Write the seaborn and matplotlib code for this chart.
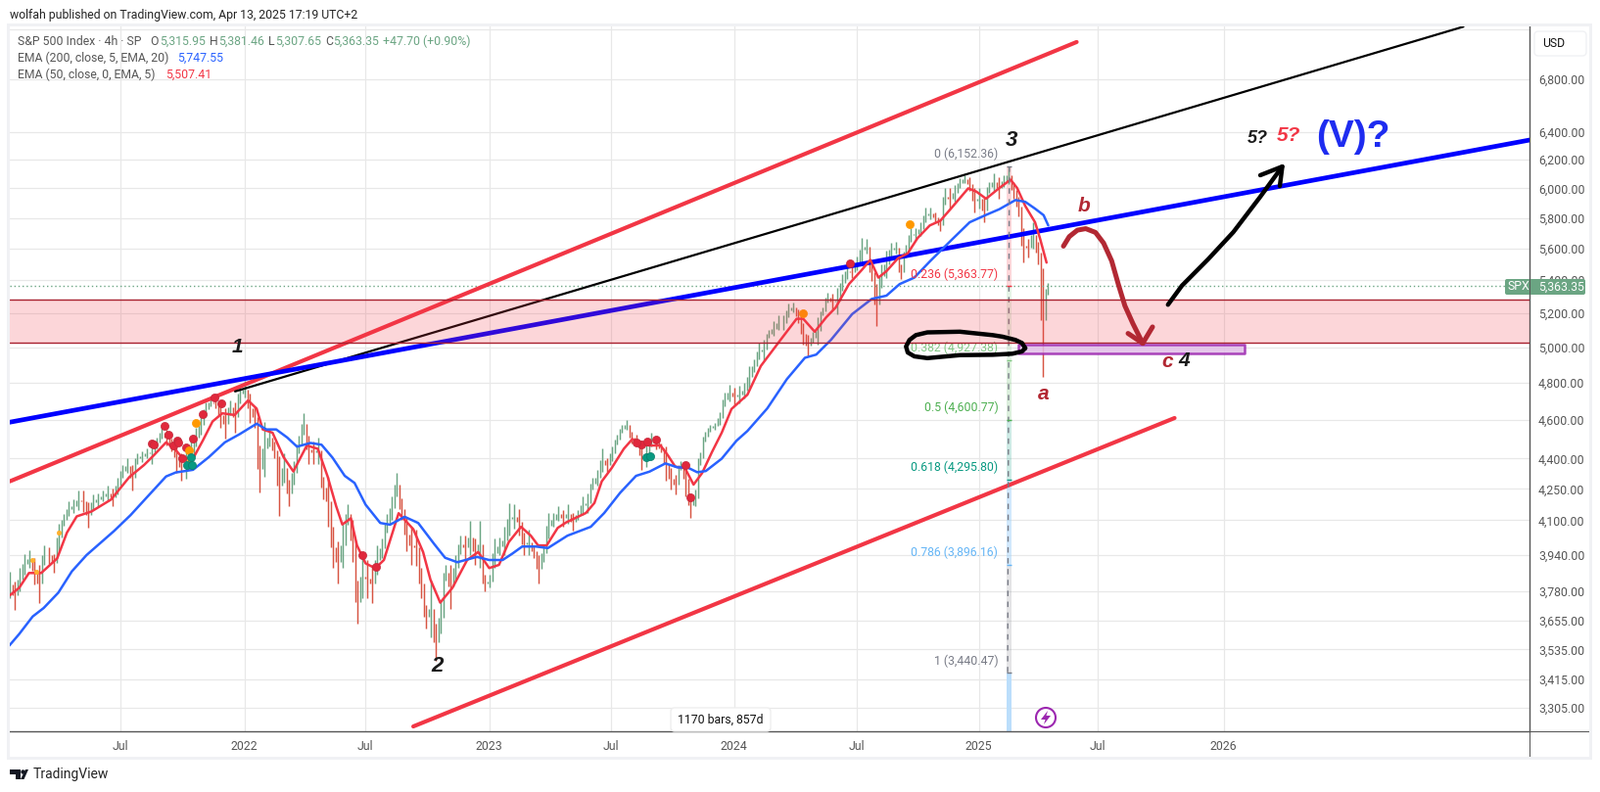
"""S&P 500 4h TradingView chart with Elliott wave drawings, rebuilt in seaborn."""

import matplotlib
matplotlib.use("Agg")
import matplotlib.pyplot as plt
import matplotlib.transforms as mtransforms
from matplotlib.patches import FancyBboxPatch, Polygon, Rectangle, Circle
from matplotlib.ticker import NullLocator
import numpy as np
import pandas as pd
import seaborn as sns

WIDTH, HEIGHT = 1634, 809

# ---- values ----------------------------------------------------------------
# candle ranges, one bar every 5 px of the chart, oldest first
bar_high = [
    3866, 3820, 3880, 3945, 3960, 3925, 3895, 3985, 3975, 3945, 4085, 4130, 4190, 4200, 4240, 4240,
    4185, 4225, 4230, 4240, 4265, 4250, 4305, 4370, 4400, 4370, 4425, 4435, 4450, 4490, 4510, 4565,
    4550, 4500, 4485, 4425, 4460, 4490, 4560, 4625, 4695, 4720, 4720, 4695, 4660, 4705, 4695, 4790,
    4810, 4740, 4675, 4465, 4590, 4555, 4485, 4410, 4425, 4295, 4390, 4520, 4635, 4520, 4485, 4510,
    4310, 4310, 4070, 4000, 4085, 4175, 4100, 3825, 3940, 3915, 3895, 3985, 4015, 4130, 4215, 4330,
    4205, 4115, 4070, 4055, 3880, 3720, 3825, 3640, 3735, 3895, 3895, 3940, 4030, 4030, 4095, 4015,
    4095, 3850, 3850, 4015, 4020, 4070,
    4180, 4175, 4155, 4040, 4055, 3985, 3940, 3985, 4135, 4135, 4165, 4150, 4175, 4135, 4150, 4215,
    4230, 4305, 4345, 4450, 4400, 4460, 4525, 4575, 4600, 4540, 4525, 4490, 4475, 4535, 4515, 4475,
    4460, 4355, 4320, 4390, 4385, 4230, 4245, 4430, 4540, 4575, 4585, 4640, 4745, 4790,
    4775, 4785, 4800, 4895, 4930, 5025, 5045, 5100, 5150, 5185, 5185, 5255, 5265, 5225, 5140, 5070,
    5090, 5175, 5235, 5325,
    5315, 5355, 5435, 5510, 5490, 5550, 5670, 5660, 5510, 5375, 5500, 5585, 5635, 5645, 5500, 5625,
    5730, 5730, 5770, 5870, 5870, 5835, 5790, 6000, 6000, 6025, 6070, 6090, 6080, 6000, 6000, 5935,
    6045, 6105, 6080, 6090, 6152, 6045, 5945, 5730, 5665, 5770, 5645, 5476, 5381,
]
bar_low = [
    3750, 3700, 3780, 3850, 3880, 3810, 3730, 3895, 3900, 3860, 3955, 4075, 4120, 4135, 4150, 4140,
    4065, 4150, 4165, 4190, 4190, 4165, 4225, 4305, 4330, 4240, 4375, 4385, 4400, 4375, 4450, 4500,
    4465, 4435, 4330, 4290, 4300, 4345, 4460, 4525, 4620, 4670, 4660, 4560, 4500, 4625, 4535, 4690,
    4720, 4585, 4560, 4235, 4310, 4460, 4400, 4120, 4280, 4165, 4270, 4425, 4525, 4375, 4375, 4375,
    4200, 4070, 3880, 3815, 3880, 4080, 3910, 3640, 3750, 3750, 3730, 3850, 3925, 4040, 4100, 4215,
    4100, 3955, 3895, 3890, 3750, 3620, 3585, 3490, 3600, 3825, 3705, 3825, 3945, 3915, 3940, 3895,
    3880, 3780, 3795, 3880, 3940, 3940,
    4030, 4060, 4030, 3940, 3940, 3925, 3815, 3910, 4015, 4070, 4095, 4070, 4085, 4050, 4100, 4125,
    4135, 4245, 4265, 4335, 4335, 4390, 4470, 4535, 4550, 4475, 4460, 4345, 4360, 4460, 4445, 4430,
    4290, 4245, 4225, 4345, 4215, 4110, 4165, 4370, 4485, 4540, 4550, 4575, 4675, 4700,
    4680, 4690, 4715, 4775, 4860, 4930, 4925, 5055, 5065, 5100, 5100, 5175, 5205, 5140, 5015, 4950,
    5025, 5015, 5185, 5265,
    5225, 5195, 5335, 5405, 5415, 5460, 5520, 5565, 5395, 5125, 5355, 5415, 5550, 5565, 5405, 5540,
    5645, 5655, 5680, 5770, 5790, 5770, 5710, 5890, 5860, 5910, 6000, 6035, 5980, 5835, 5860, 5770,
    5970, 5980, 5930, 6010, 6030, 5930, 5810, 5510, 5540, 5600, 5500, 4835, 5308,
]

# EMA 50 (red) and EMA 200 (blue), as decimal year / price pairs
ema50_year = [
    2021.04, 2021.08, 2021.12, 2021.17, 2021.235, 2021.275, 2021.315, 2021.375, 2021.455, 2021.53, 2021.59, 2021.63,
    2021.68, 2021.715, 2021.75, 2021.79, 2021.83, 2021.87, 2021.91, 2021.96, 2022.015, 2022.05, 2022.075, 2022.115,
    2022.16, 2022.20, 2022.255, 2022.30, 2022.34, 2022.375, 2022.40, 2022.435, 2022.46, 2022.495, 2022.535, 2022.57,
    2022.63, 2022.69, 2022.73, 2022.76, 2022.80, 2022.85, 2022.91, 2022.955, 2023.00, 2023.04, 2023.08, 2023.13,
    2023.17, 2023.20, 2023.235, 2023.28, 2023.315, 2023.395, 2023.43, 2023.46, 2023.50, 2023.55, 2023.585, 2023.615,
    2023.655, 2023.70, 2023.73, 2023.76, 2023.80, 2023.835, 2023.87, 2023.91, 2023.95, 2023.99, 2024.055, 2024.11,
    2024.19, 2024.256, 2024.283, 2024.33, 2024.377, 2024.416, 2024.47, 2024.523, 2024.557, 2024.59, 2024.623, 2024.67,
    2024.71, 2024.75, 2024.80, 2024.843, 2024.89, 2024.957, 2024.99, 2025.03, 2025.084, 2025.13, 2025.157, 2025.19,
    2025.23, 2025.25, 2025.277,
]
ema50_price = [
    3760, 3794, 3859, 3859, 3924, 4042, 4118, 4141, 4198, 4308, 4368, 4417,
    4483, 4450, 4400, 4400, 4492, 4592, 4635, 4626, 4704, 4660, 4550, 4533,
    4408, 4336, 4467, 4450, 4311, 4166, 4080, 4109, 3983, 3902, 3880, 3917,
    4133, 4058, 3953, 3830, 3730, 3794, 3917, 3953, 3881, 3895, 3998, 4069,
    4028, 3983, 3983, 4064, 4090, 4134, 4182, 4287, 4352, 4450, 4500, 4475,
    4467, 4467, 4417, 4360, 4352, 4271, 4328, 4433, 4533, 4658, 4735, 4894,
    5042, 5166, 5166, 5090, 5175, 5234, 5376, 5465, 5527, 5416, 5456, 5537,
    5569, 5667, 5750, 5781, 5869, 6000, 5978, 5929, 6002, 6060, 6002, 5880,
    5771, 5667, 5510,
]
ema200_year = [
    2021.04, 2021.08, 2021.135, 2021.18, 2021.24, 2021.295, 2021.355, 2021.468, 2021.535, 2021.60, 2021.68, 2021.72,
    2021.79, 2021.855, 2021.92, 2021.98, 2022.05, 2022.09, 2022.13, 2022.175, 2022.215, 2022.27, 2022.315, 2022.36,
    2022.41, 2022.45, 2022.495, 2022.555, 2022.595, 2022.655, 2022.71, 2022.775, 2022.82, 2022.87, 2022.95, 2023.00,
    2023.055, 2023.095, 2023.135, 2023.19, 2023.24, 2023.32, 2023.415, 2023.47, 2023.535, 2023.60, 2023.655, 2023.72,
    2023.77, 2023.81, 2023.85, 2023.885, 2023.95, 2024.01, 2024.055, 2024.136, 2024.216, 2024.29, 2024.336, 2024.396,
    2024.483, 2024.563, 2024.623, 2024.677, 2024.737, 2024.80, 2024.883, 2024.963, 2025.03, 2025.084, 2025.15, 2025.19,
    2025.23, 2025.265, 2025.284,
]
ema200_price = [
    3551, 3598, 3671, 3707, 3773, 3866, 3939, 4050, 4124, 4207, 4311, 4331,
    4344, 4408, 4483, 4525, 4580, 4550, 4550, 4508, 4461, 4480, 4471, 4405,
    4314, 4279, 4174, 4087, 4079, 4116, 4087, 3990, 3927, 3907, 3931, 3917,
    3917, 3946, 3978, 3978, 3971, 4028, 4069, 4134, 4231, 4314, 4335, 4376,
    4356, 4356, 4332, 4338, 4400, 4491, 4542, 4661, 4820, 4940, 4958, 5042,
    5194, 5285, 5305, 5376, 5416, 5517, 5646, 5771, 5820, 5858, 5920, 5908,
    5862, 5818, 5750,
]

# signal dots on the chart
red_dot_year = [2021.622, 2021.631, 2021.673, 2021.689, 2021.709, 2021.725, 2021.731, 2021.762, 2021.746, 2021.789,
                2021.829, 2021.879, 2021.905, 2022.48, 2022.536, 2023.622, 2023.645, 2023.68, 2023.602, 2023.80,
                2023.82, 2024.473]
red_dot_price = [4478, 4472, 4567, 4521, 4467, 4492, 4482, 4455, 4403, 4502,
                 4633, 4722, 4690, 3937, 3886, 4470, 4487, 4498, 4483, 4369,
                 4210, 5506]
orange_dot_year = [2021.802, 2021.773, 2024.283, 2024.717]
orange_dot_price = [4586, 4442, 5196, 5758]
yellow_dot_year = [2021.242, 2021.135, 2021.148, 2021.773]
yellow_dot_price = [4041, 3917, 3866, 4395]
teal_dot_year = [2021.783, 2021.766, 2021.785, 2023.642, 2023.656]
teal_dot_price = [4407, 4368, 4368, 4408, 4412]

# axis
y_ticks = [6800, 6400, 6200, 6000, 5800, 5600, 5400, 5200, 5000, 4800, 4600, 4400, 4250, 4100, 3940, 3780, 3655,
           3535, 3415, 3305]
x_ticks = [2021.492, 2022.0, 2022.494, 2023.0, 2023.499, 2024.0, 2024.5, 2025.0, 2025.487, 2026.0]
x_labels = ["Jul", "2022", "Jul", "2023", "Jul", "2024", "Jul", "2025", "Jul", "2026"]

# fib retracement
fib_levels = [0, 0.236, 0.382, 0.5, 0.618, 0.786, 1]
fib_prices = [6152.36, 5363.77, 4927.38, 4600.77, 4295.80, 3896.16, 3440.47]
fib_colors = ["#787b86", "#f23645", "#81c784", "#4caf50", "#089981", "#64b5f6", "#787b86"]
fib_band_colors = ["#f23645", "#81c784", "#4caf50", "#089981", "#64b5f6", "#787b86"]

# drawn trend lines and scribbles
blue_line_year, blue_line_price = [2021.0416, 2027.25], [4588, 6342]
red_upper_year, red_upper_price = [2021.0416, 2025.40], [4287, 7097]
red_lower_year, red_lower_price = [2022.69, 2025.80], [3236, 4610]
black_line_year, black_line_price = [2021.962, 2026.98], [4753, 7223]
zone_low, zone_high = 5025, 5283
box_year, box_low, box_high = [2025.16, 2026.085], 4966, 5013
ellipse_year = [2025.19, 2025.177, 2025.15, 2025.097, 2025.057, 2024.923, 2024.79, 2024.743, 2024.717, 2024.703,
                2024.71, 2024.737, 2024.79, 2024.923, 2025.057, 2025.137, 2025.177, 2025.19]
ellipse_price = [4995, 5024, 5042, 5061, 5070, 5090, 5086, 5070, 5042, 5004,
                 4970, 4948, 4938, 4955, 4957, 4963, 4976, 4995]
curve_year = [2025.346, 2025.37, 2025.403, 2025.437, 2025.477, 2025.51, 2025.543, 2025.57, 2025.597, 2025.63, 2025.67]
curve_price = [5615, 5677, 5719, 5729, 5704, 5635, 5521, 5376, 5244, 5137, 5023]
curve_head_year = [2025.61, 2025.67, 2025.71]
curve_head_price = [5080, 5023, 5118]
up_arrow_year = [2025.773, 2025.83, 2025.937, 2026.04, 2026.15, 2026.24]
up_arrow_price = [5250, 5366, 5531, 5706, 5942, 6152]
up_head_year = [2026.15, 2026.24, 2026.23]
up_head_price = [6091, 6152, 6016]

last_price = 5363.35

# ---- layout helpers ---------------------------------------------------------
px_per_year = 249.9
year_left, year_right = 2021.0416, 2027.25
price_low, price_high = 3218, 7225
bar_year = year_left + np.arange(len(bar_high)) * 5 / px_per_year
bar_mid = (np.array(bar_high) + np.array(bar_low)) / 2

GREEN = "#6ba583"
CANDLE_RED = "#d75442"
LINE_RED = "#f23645"
DARK_RED = "#b22833"
TEXT_GREY = "#555555"
FONT = "Roboto"
TEXT_SIZE = 8.8
SCRAWL_FONT = "Liberation Sans"

sns.set_theme(style="white", rc={"font.family": FONT, "axes.unicode_minus": False})
fig = plt.figure(figsize=(WIDTH / 100, HEIGHT / 100), dpi=100, facecolor="white")
ax = fig.add_axes([10 / WIDTH, 1 - 747 / HEIGHT, 1552 / WIDTH, 720 / HEIGHT])
pixel = mtransforms.IdentityTransform()


def page_text(x, y, s, color=TEXT_GREY, size=TEXT_SIZE, **kwargs):
    return fig.text(x / WIDTH, 1 - y / HEIGHT, s, color=color, fontsize=size, va="center", **kwargs)


def line(x, y, color, width, z=3, **kwargs):
    frame = pd.DataFrame({"year": x, "price": y})
    sns.lineplot(data=frame, x="year", y="price", color=color, linewidth=width, sort=False, estimator=None,
                 ax=ax, zorder=z, legend=False, **kwargs)


def dots(x, y, color, size, edge):
    frame = pd.DataFrame({"year": x, "price": y})
    sns.scatterplot(data=frame, x="year", y="price", color=color, s=size, edgecolor=edge, linewidth=0.5,
                    ax=ax, zorder=6, legend=False)


ax.set_yscale("log")
ax.set_xlim(year_left, year_right)
ax.set_ylim(price_low, price_high)

# grid
for p in y_ticks + [7200]:
    ax.axhline(p, color="#e8e8e8", lw=0.9, zorder=0)
for x in x_ticks:
    ax.axvline(x, color="#e8e8e8", lw=0.9, zorder=0)

# candles: the range of each bar, plus a thin step to the next bar so the band reads as dense as 4h bars
colors = [GREEN if i == 0 or bar_mid[i] >= bar_mid[i - 1] else CANDLE_RED for i in range(len(bar_mid))]
ax.vlines(bar_year, bar_low, bar_high, colors=colors, lw=1.05, zorder=2)
step_colors = [GREEN if bar_mid[i + 1] >= bar_mid[i] else CANDLE_RED for i in range(len(bar_mid) - 1)]
ax.vlines(bar_year[:-1] + 2.5 / px_per_year, bar_mid[:-1], bar_mid[1:], colors=step_colors, lw=1.05, zorder=2)

# EMAs
line(ema50_year, ema50_price, LINE_RED, 1.8, z=4, solid_joinstyle="round")
line(ema200_year, ema200_price, "#2962ff", 1.8, z=4, solid_joinstyle="round")
dots(red_dot_year, red_dot_price, "#e0283c", 34, "#c2273a")
dots(orange_dot_year, orange_dot_price, "#ff9800", 34, "#ff9800")
dots(yellow_dot_year, yellow_dot_price, "#ffb02e", 10, "#ffb02e")
dots(teal_dot_year, teal_dot_price, "#089981", 34, "#0a7d6b")

# fib strip
fib_left, fib_right = 2025.115, 2025.134
for i, col in enumerate(fib_band_colors):
    ax.fill_betweenx([fib_prices[i + 1], fib_prices[i]], fib_left, fib_right, color=col, alpha=0.2, lw=0, zorder=1)
ax.fill_betweenx([price_low, fib_prices[-1]], fib_left, fib_right, color="#bbdefb", lw=0, zorder=1)
ax.fill_betweenx([fib_prices[4], fib_prices[5]], fib_left, fib_right, color="#bbdefb", alpha=0.4, lw=0, zorder=1)
line([2025.125, 2025.118], [fib_prices[0], fib_prices[-1]], "#787b86", 1.0, z=5, linestyle=(0, (4, 4)))
for lev, p, col in zip(fib_levels, fib_prices, fib_colors):
    ax.hlines(p, fib_left, fib_right, color=col, lw=1.0, zorder=5)
    ax.annotate(f"{lev:g} ({p:,.2f})", (fib_left, p), xytext=(-6.5, 4), textcoords="offset points",
                color=col, fontsize=TEXT_SIZE, ha="right", va="bottom", zorder=7)

# trend lines
line(red_upper_year, red_upper_price, LINE_RED, 3.0)
line(red_lower_year, red_lower_price, LINE_RED, 3.0)
line(black_line_year, black_line_price, "black", 1.6)
line(blue_line_year, blue_line_price, "#0000ff", 3.4)

# last price
ax.axhline(last_price, color=GREEN, lw=1.0, linestyle=(0, (1, 2)), zorder=2)

# resistance zone sits on top of the lines so they tint through it
ax.axhspan(zone_low, zone_high, facecolor=LINE_RED, alpha=0.2, lw=0, zorder=7)
ax.axhline(zone_low, color="#a8202e", lw=1.0, zorder=7)
ax.axhline(zone_high, color="#a8202e", lw=1.0, zorder=7)
ax.fill_between(box_year, box_low, box_high, facecolor="#e1bee7", edgecolor="#9c27b0", lw=1.8, alpha=0.85, zorder=8)

# freehand drawings
line(ellipse_year, ellipse_price, "black", 3.2, z=9, solid_joinstyle="round")
line(curve_year, curve_price, DARK_RED, 3.6, z=9, solid_capstyle="round", solid_joinstyle="round")
line(curve_head_year, curve_head_price, DARK_RED, 3.6, z=9, solid_capstyle="round", solid_joinstyle="round")
line(up_arrow_year, up_arrow_price, "black", 3.2, z=9, solid_capstyle="round", solid_joinstyle="round")
line(up_head_year, up_head_price, "black", 3.2, z=9, solid_capstyle="round", solid_joinstyle="round")

# wave labels
wave_kw = dict(ha="center", va="center", family=SCRAWL_FONT, style="italic", fontweight="bold", zorder=10)
ax.text(2025.135, 6342, "3", color="#1a1a1a", fontsize=16, **wave_kw)
ax.text(2021.97, 5000, "1", color="#1a1a1a", fontsize=15, **wave_kw)
ax.text(2022.786, 3468, "2", color="#1a1a1a", fontsize=16, **wave_kw)
ax.text(2025.263, 4739, "a", color=DARK_RED, fontsize=15, **wave_kw)
ax.text(2025.43, 5877, "b", color=DARK_RED, fontsize=15, **wave_kw)
ax.text(2025.769, 4919, "c", color=DARK_RED, fontsize=15, **wave_kw)
ax.text(2025.84, 4925, "4", color="#1a1a1a", fontsize=15, **wave_kw)
ax.text(2026.14, 6350, "5?", color="#1a1a1a", fontsize=13, **wave_kw)
ax.text(2026.264, 6371, "5?", color=LINE_RED, fontsize=15, **wave_kw)
ax.text(2026.53, 6365, "(V)?", color="#1e2cf0", fontsize=28, ha="center", va="center", family=SCRAWL_FONT,
        fontweight="bold", zorder=10)

# axes styling
ax.yaxis.tick_right()
ax.set_yticks(y_ticks)
ax.set_yticklabels([f"{p:,.2f}" for p in y_ticks])
ax.yaxis.set_minor_locator(NullLocator())
ax.set_xticks(x_ticks)
ax.set_xticklabels(x_labels)
ax.tick_params(axis="y", length=0, pad=6.5, labelsize=TEXT_SIZE, labelcolor=TEXT_GREY)
ax.tick_params(axis="x", length=0, pad=6.5, labelsize=TEXT_SIZE, labelcolor=TEXT_GREY)
ax.set_xlabel("")
ax.set_ylabel("")
for side in ["top", "left"]:
    ax.spines[side].set_visible(False)
for side in ["right", "bottom"]:
    ax.spines[side].set_color("#555555")
    ax.spines[side].set_linewidth(1.0)

# outer frame and price scale furniture, in pixels
def px_rect(x0, y0, x1, y1, **kwargs):
    fig.add_artist(Rectangle((x0, HEIGHT - y1), x1 - x0, y1 - y0, transform=pixel, **kwargs))


def px_round(x0, y0, x1, y1, radius, **kwargs):
    fig.add_artist(FancyBboxPatch((x0 + radius, HEIGHT - y1 + radius), x1 - x0 - 2 * radius, y1 - y0 - 2 * radius,
                                  boxstyle=f"round,pad={radius},rounding_size={radius}", transform=pixel, **kwargs))


frame_grey = "#f0f1f4"
px_rect(7, 24, 1626, 27, facecolor=frame_grey, lw=0)
px_rect(7, 773, 1626, 776, facecolor=frame_grey, lw=0)
px_rect(7, 24, 10, 776, facecolor=frame_grey, lw=0)
px_rect(1623, 24, 1626, 776, facecolor=frame_grey, lw=0)
px_rect(1562, 27, 1563, 773, facecolor="#555555", lw=0, zorder=3)
px_rect(1562, 747, 1623, 748, facecolor="#555555", lw=0, zorder=3)

px_round(1567, 32, 1620, 57, 4, facecolor="white", edgecolor="#f0f1f4", lw=1, zorder=4)
page_text(1575, 44, "USD", color="#111111", zorder=5)

px_round(1537, 285, 1619, 301, 2, facecolor=GREEN, edgecolor=GREEN, lw=0, zorder=4)
px_rect(1562, 285, 1563, 301, facecolor="#555555", lw=0, zorder=5)
page_text(1540, 293, "SPX", color="white", zorder=6)
page_text(1571, 293, "5,363.35", color="white", zorder=6)

px_round(685, 723, 787, 747, 4, facecolor="white", edgecolor="#eeeeee", lw=1, zorder=4)
page_text(736, 735, "1170 bars, 857d", color="#111111", ha="center", zorder=5)

fig.add_artist(Circle((1068, HEIGHT - 733), 10, transform=pixel, facecolor="white", edgecolor="#9c27b0", lw=1.5, zorder=4))
fig.add_artist(Polygon([(1070, HEIGHT - 726), (1063, HEIGHT - 735), (1067.5, HEIGHT - 735), (1066, HEIGHT - 740),
                        (1073, HEIGHT - 731), (1068.5, HEIGHT - 731)], transform=pixel, facecolor="#9c27b0", lw=0, zorder=5))

# header and legend
page_text(10, 15, "wolfah published on TradingView.com, Apr 13, 2025 17:19 UTC+2", color="#222222")
page_text(18, 42, "S&P 500 Index · 4h · SP", zorder=5)
for x, s, col in [(153, "O", TEXT_GREY), (163, "5,315.95", GREEN), (214, "H", TEXT_GREY), (223, "5,381.46", GREEN),
                  (274, "L", TEXT_GREY), (281, "5,307.65", GREEN), (332, "C", TEXT_GREY), (340, "5,363.35", GREEN),
                  (391, "+47.70 (+0.90%)", GREEN)]:
    page_text(x, 42, s, color=col, zorder=5)
page_text(18, 59, "EMA (200, close, 5, EMA, 20)", zorder=5)
page_text(181, 59, "5,747.55", color="#2962ff", zorder=5)
page_text(18, 76, "EMA (50, close, 0, EMA, 5)", zorder=5)
page_text(169, 76, "5,507.41", color=LINE_RED, zorder=5)

# TradingView mark
fig.add_artist(Polygon([(10, HEIGHT - 786), (21, HEIGHT - 786), (21, HEIGHT - 796), (15.5, HEIGHT - 796),
                        (15.5, HEIGHT - 791), (10, HEIGHT - 791)], transform=pixel, facecolor="#131722", lw=0))
fig.add_artist(Circle((23.5, HEIGHT - 788.5), 2.2, transform=pixel, facecolor="#131722", lw=0))
fig.add_artist(Polygon([(29, HEIGHT - 786), (26, HEIGHT - 786), (21, HEIGHT - 796), (24.5, HEIGHT - 796)],
                       transform=pixel, facecolor="#131722", lw=0))
page_text(34, 791, "TradingView", color="#222222", size=10)

fig.savefig("out.png", dpi=100)
